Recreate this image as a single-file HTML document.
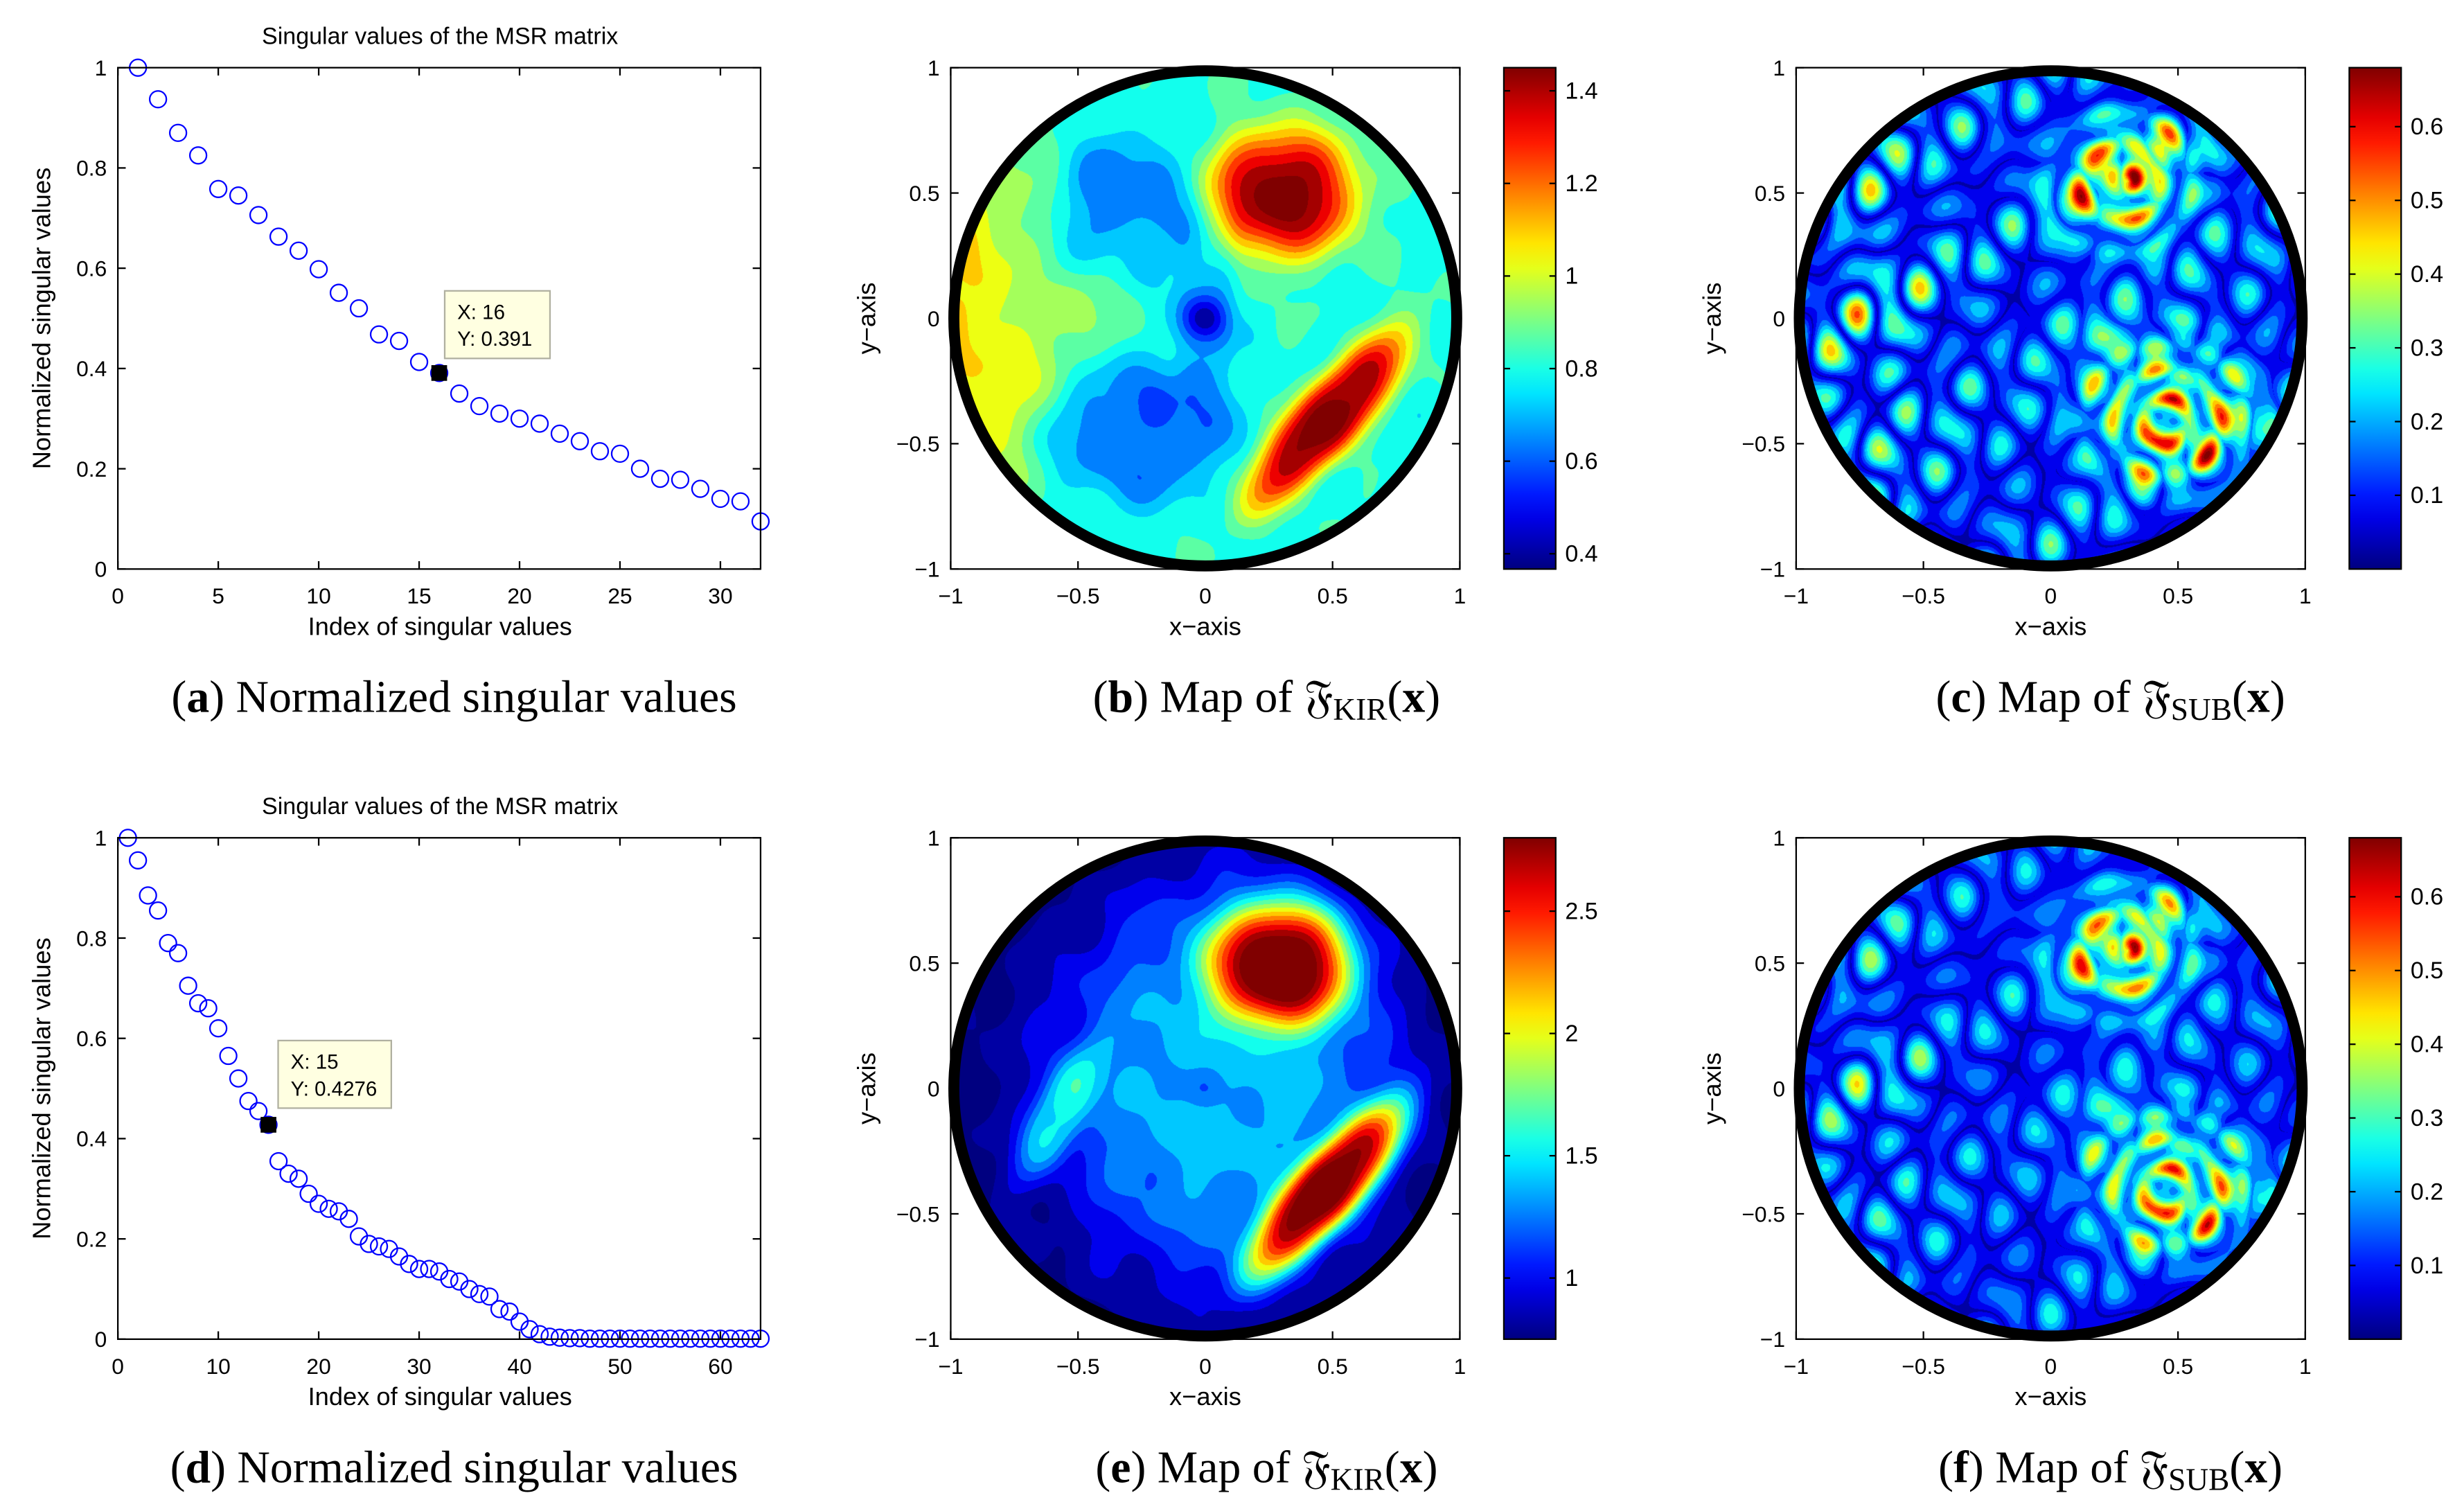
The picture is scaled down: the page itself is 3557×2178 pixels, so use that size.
<!DOCTYPE html>
<html><head><meta charset="utf-8"><style>
html,body{margin:0;padding:0;background:#fff;}
body{width:3557px;height:2178px;position:relative;overflow:hidden;}
canvas{position:absolute;}
svg{position:absolute;left:0;top:0;}
text{font-family:"Liberation Sans",sans-serif;}
.cap{font-family:"Liberation Serif","DejaVu Serif",serif;font-size:29px;}
</style></head><body>
<canvas id="mb"></canvas>
<canvas id="mc"></canvas>
<canvas id="me"></canvas>
<canvas id="mf"></canvas>
<svg id="s" width="3557" height="2178" viewBox="0 0 1568 960"></svg>
<script>
const svA=[1,0.937,0.87,0.825,0.758,0.745,0.706,0.663,0.635,0.598,0.551,0.52,0.468,0.455,0.413,0.391,0.35,0.325,0.31,0.3,0.29,0.27,0.255,0.235,0.23,0.2,0.18,0.178,0.16,0.14,0.135,0.095];
const svD=[1,0.955,0.885,0.855,0.79,0.77,0.705,0.67,0.66,0.62,0.565,0.52,0.475,0.455,0.4276,0.355,0.33,0.32,0.29,0.27,0.26,0.255,0.24,0.205,0.19,0.185,0.18,0.165,0.15,0.14,0.14,0.135,0.12,0.115,0.1,0.09,0.085,0.06,0.055,0.035,0.02,0.01,0.005,0.003,0.002,0.002,0.001,0.001,0.001,0.001,0.001,0.001,0.001,0.001,0.001,0.001,0.001,0.001,0.001,0.001,0.001,0.001,0.001,0.001];
const xTicksA=[0,5,10,15,20,25,30];
const xTicksD=[0,10,20,30,40,50,60];
const yTicksSV=[0,0.2,0.4,0.6,0.8,1];
const mapTicks=[-1,-0.5,0,0.5,1];
const cbB=[0.4,0.6,0.8,1,1.2,1.4], cbE=[1,1.5,2,2.5], cbC=[0.1,0.2,0.3,0.4,0.5,0.6];
const S=document.getElementById('s'),NS='http://www.w3.org/2000/svg',SC=3557/1568;
function el(t,a,p){const e=document.createElementNS(NS,t);for(const k in a)e.setAttribute(k,a[k]);(p||S).appendChild(e);return e;}
function txt(x,y,s,o){const e=el('text',Object.assign({x:x,y:y,'font-size':14,fill:'#000'},o||{}));e.textContent=s;return e;}
function fmt(v){return String(v).replace('-','\u2212');}
function axesBox(x0,y0,x1,y1,name){const r=el('rect',{x:x0,y:y0,width:x1-x0,height:y1-y0,fill:'none',stroke:'#000','stroke-width':1});}
function xtick(px,y0,y1,lab){el('line',{x1:px,x2:px,y1:y1,y2:y1-5,stroke:'#000'});el('line',{x1:px,x2:px,y1:y0,y2:y0+5,stroke:'#000'});const t=txt(px,y1+22,fmt(lab),{'text-anchor':'middle'});}
function ytick(py,x0,x1,lab,off){el('line',{x1:x0,x2:x0+5,y1:py,y2:py,stroke:'#000'});el('line',{x1:x1,x2:x1-5,y1:py,y2:py,stroke:'#000'});const t=txt(x0-(off||7),py+5,fmt(lab),{'text-anchor':'end'});}
function svPlot(dy,data,xt,xmax,tipIdx,tip,tipBox){
  const x0=75,x1=484,y0=43+dy,y1=362+dy;
  const X=v=>x0+v/xmax*(x1-x0),Y=v=>y1-v*(y1-y0);
  const g=el('g',{});
  data.forEach((v,i)=>{const c=el('circle',{cx:X(i+1),cy:Y(v),r:5.3,fill:'none',stroke:'#0000ff','stroke-width':1},g);});
  axesBox(x0,y0,x1,y1,'sv-axes');
  xt.forEach(v=>xtick(X(v),y0,y1,v));yTicksSV.forEach(v=>ytick(Y(v),x0,x1,v));
  let t=txt(280,y0-15,'Singular values of the MSR matrix',{'text-anchor':'middle','font-size':15});
  t=txt(280,y1+42,'Index of singular values',{'text-anchor':'middle','font-size':16});
  t=txt(0,0,'Normalized singular values',{'text-anchor':'middle','font-size':16,transform:`translate(32,${(y0+y1)/2}) rotate(-90)`});
  const v=data[tipIdx-1];const m=el('rect',{x:X(tipIdx)-5,y:Y(v)-5,width:10,height:10,fill:'#000'});
  const bx=el('rect',{x:tipBox[0],y:tipBox[1]+dy,width:tipBox[2],height:43,fill:'#ffffe1',stroke:'#b0b0a0'});
  txt(tipBox[0]+8,tipBox[1]+dy+18,'X: '+tipIdx,{'font-size':13});txt(tipBox[0]+8,tipBox[1]+dy+35,'Y: '+tip,{'font-size':13});
}
svPlot(0,svA,xTicksA,32,16,'0.391',[283,185,67]);
svPlot(490,svD,xTicksD,64,15,'0.4276',[177,172,72]);

function jet(t){t=Math.max(0,Math.min(1,t));const r=Math.max(0,Math.min(1,1.5-Math.abs(4*t-3))),g=Math.max(0,Math.min(1,1.5-Math.abs(4*t-2))),b=Math.max(0,Math.min(1,1.5-Math.abs(4*t-1)));return [r*255,g*255,b*255];}
function gp(x,y,cx,cy,sx,sy,ang,p){const c=Math.cos(ang),s=Math.sin(ang),dx=x-cx,dy=y-cy,u=(dx*c+dy*s)/sx,w=(-dx*s+dy*c)/sy;return Math.exp(-Math.pow(u*u+w*w,p||1));}
function nz(x,y){return (Math.sin(13*x+7*y)*Math.sin(9*y-5*x)+0.6*Math.sin(21*x-4*y+1)*Math.sin(17*y+3*x+2));}
const fields={
 mb:(x,y)=>0.8+0.28*gp(x,y,-0.95,0.1,0.25,0.9,0)+0.12*gp(x,y,-0.55,-0.05,0.15,0.5,-0.6)-0.2*gp(x,y,-0.3,0.45,0.25,0.3,0,2)-0.2*gp(x,y,-0.25,-0.45,0.35,0.3,0,2)-0.12*gp(x,y,0,0.1,0.12,0.6,0,2)-0.33*gp(x,y,0,0,0.08,0.09,0)+0.68*gp(x,y,0.3,0.5,0.3,0.26,0,1.5)+0.7*gp(x,y,0.48,-0.4,0.45,0.13,0.85,1.6)+0.04*nz(x,y),
 me:(x,y)=>0.95+0.45*gp(x,y,0.1,0.05,0.65,0.85,0,2)+0.6*gp(x,y,-0.58,-0.1,0.1,0.3,-0.5,1.5)-0.25*gp(x,y,0,0,0.07,0.08,0)+1.85*gp(x,y,0.3,0.5,0.28,0.25,0,1.5)+1.85*gp(x,y,0.48,-0.4,0.45,0.13,0.85,1.6)-0.25*(x*x+y*y)+0.07*nz(x,y),
 mc:(x,y)=>sub(x,y,1),
 mf:(x,y)=>sub(x,y,0.8)
};
function sub(x,y,k){
 const n=Math.sin(23*x+5*y)+Math.sin(7*x-21*y+1.3)+Math.sin(17*x+15*y+2.1)+0.6*Math.sin(31*x-9*y);
 const tex=Math.pow(Math.abs(n)/3.4,1.1);
 let v=0.04+0.3*tex*k;
 v+=0.2*k*tex*gp(x,y,-0.75,0.05,0.3,0.9,0);
 const h1=gp(x,y,0.3,0.55,0.3,0.28,0,1.5),h2=gp(x,y,0.48,-0.38,0.35,0.28,0,1.5);
 v+=0.12*h1+0.12*h2;
 v+=0.4*h1*(0.4+0.6*tex)*Math.pow(Math.sin(24*Math.hypot(x-0.3,y-0.55)+3*x),2);
 v+=0.4*h2*(0.4+0.6*tex)*Math.pow(Math.sin(26*Math.hypot(x-0.45,y+0.4)+2*y),2);
 v+=0.08*gp(x,y,0.2,-0.05,0.2,0.12,0);
 return v;
}
const ranges={mb:[0.35,1.45],me:[0.75,2.8],mc:[0,0.68],mf:[0,0.68]};
function mapPlot(id,ox,dy,cbTicks,cbr){
  const x0=ox,x1=ox+324,y0=43+dy,y1=362+dy;
  const cv=document.getElementById(id);const W=Math.round((x1-x0)*SC),H=Math.round((y1-y0)*SC);
  cv.width=W;cv.height=H;cv.style.left=(x0*SC)+'px';cv.style.top=(y0*SC)+'px';
  const ctx=cv.getContext('2d'),img=ctx.createImageData(W,H),f=fields[id],[lo,hi]=ranges[id],N=14;
  for(let j=0;j<H;j++)for(let i=0;i<W;i++){const x=i/W*2-1,y=1-j/H*2;const o=(j*W+i)*4;
    if(x*x+y*y>1){img.data[o+3]=0;continue;}
    let t=(f(x,y)-lo)/(hi-lo);t=(Math.floor(t*N)+0.5)/N;const c=jet(t);img.data[o]=c[0];img.data[o+1]=c[1];img.data[o+2]=c[2];img.data[o+3]=255;}
  ctx.putImageData(img,0,0);
  const ring=el('ellipse',{cx:(x0+x1)/2,cy:(y0+y1)/2,rx:(x1-x0)/2-2,ry:(y1-y0)/2-2,fill:'none',stroke:'#000','stroke-width':7});
  axesBox(x0,y0,x1,y1,'map-axes');
  const X=v=>x0+(v+1)/2*(x1-x0),Y=v=>y1-(v+1)/2*(y1-y0);
  mapTicks.forEach(v=>xtick(X(v),y0,y1,v));mapTicks.forEach(v=>ytick(Y(v),x0,x1,v));
  let t=txt((x0+x1)/2,y1+42,'x\u2212axis',{'text-anchor':'middle','font-size':16});
  t=txt(0,0,'y\u2212axis',{'text-anchor':'middle','font-size':16,transform:`translate(${x0-48},${(y0+y1)/2}) rotate(-90)`});
  const cx0=x1+28,cx1=x1+61;
  const gid='g'+id;const gr=el('linearGradient',{id:gid,x1:0,y1:1,x2:0,y2:0});
  for(let k=0;k<=20;k++){const c=jet(k/20);el('stop',{offset:k/20,'stop-color':`rgb(${c.map(Math.round)})`},gr);}
  const cb=el('rect',{x:cx0,y:y0,width:cx1-cx0,height:y1-y0,fill:`url(#${gid})`,stroke:'#000'});
  cbTicks.forEach(v=>{const py=y1-(v-cbr[0])/(cbr[1]-cbr[0])*(y1-y0);el('line',{x1:cx0,x2:cx0+4,y1:py,y2:py,stroke:'#000'});el('line',{x1:cx1,x2:cx1-4,y1:py,y2:py,stroke:'#000'});const l=txt(cx1+6,py+5,String(v),{'font-size':15});});
}
mapPlot('mb',605,0,cbB,[0.367,1.45]);
mapPlot('mc',1143,0,cbC,[0.0,0.68]);
mapPlot('me',605,490,cbE,[0.75,2.8]);
mapPlot('mf',1143,490,cbC,[0.0,0.68]);
function cap(cx,y,lab,rest,sub){const t=el('text',{x:cx,y:y,'text-anchor':'middle',class:'cap'});
 const b=el('tspan',{},t);b.textContent='(';const bb=el('tspan',{'font-weight':'bold'},t);bb.textContent=lab;const c=el('tspan',{},t);c.textContent=') '+rest;
 if(sub){const f=el('tspan',{},t);f.textContent='\u{1D509}';const s=el('tspan',{'font-size':20,dy:5},t);s.textContent=sub;const p=el('tspan',{dy:-5},t);p.textContent='(';const x=el('tspan',{'font-weight':'bold'},t);x.textContent='x';const q=el('tspan',{},t);q.textContent=')';}}
cap(289,453,'a','Normalized singular values');cap(806,453,'b','Map of ','KIR');cap(1343,453,'c','Map of ','SUB');
cap(289,943,'d','Normalized singular values');cap(806,943,'e','Map of ','KIR');cap(1343,943,'f','Map of ','SUB');
</script>
</body></html>
